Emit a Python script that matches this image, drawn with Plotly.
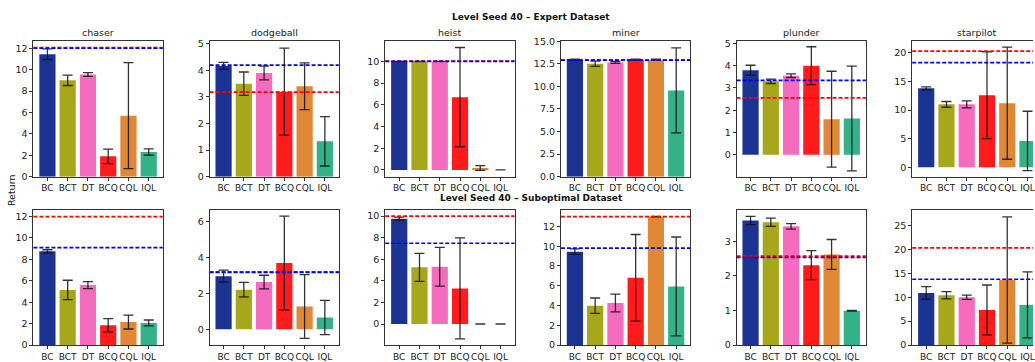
import plotly.graph_objects as go

# ---- data ---------------------------------------------------------------
algorithms = ["BC", "BCT", "DT", "BCQ", "CQL", "IQL"]
games = ["chaser", "dodgeball", "heist", "miner", "plunder", "starpilot"]
bar_colors = ["#1b3494", "#a6a71b", "#f56cbf", "#fe1b1b", "#e08835", "#35b188"]

# Expert dataset: mean return and error per algorithm, one list per game
expert_means = [
    [11.45, 9.0, 9.55, 1.9, 5.7, 2.3],
    [4.17, 3.5, 3.9, 3.2, 3.4, 1.33],
    [10.0, 10.0, 10.0, 6.7, 0.17, 0.0],
    [12.95, 12.5, 12.65, 12.95, 12.95, 9.55],
    [3.8, 3.3, 3.55, 4.0, 1.6, 1.63],
    [13.8, 11.0, 11.0, 12.6, 11.2, 4.6],
]
expert_errors = [
    [0.5, 0.48, 0.17, 0.68, 4.95, 0.3],
    [0.13, 0.44, 0.26, 1.64, 0.88, 0.93],
    [0.0, 0.0, 0.0, 4.57, 0.22, 0.0],
    [0.05, 0.3, 0.1, 0.05, 0.05, 4.7],
    [0.22, 0.1, 0.08, 0.85, 2.15, 2.35],
    [0.25, 0.5, 0.6, 7.6, 9.8, 5.2],
]
expert_ref_red = [12.05, 3.18, 10.02, 12.9, 2.56, 20.3]
expert_ref_blue = [12.0, 4.2, 10.0, 12.9, 3.34, 18.3]

# Suboptimal dataset
subopt_means = [
    [8.75, 5.15, 5.6, 1.85, 2.15, 2.07],
    [2.95, 2.2, 2.62, 3.68, 1.26, 0.65],
    [9.75, 5.25, 5.3, 3.3, 0.0, 0.0],
    [9.45, 3.98, 4.25, 6.8, 13.0, 5.93],
    [3.6, 3.55, 3.43, 2.31, 2.62, 0.99],
    [10.9, 10.4, 10.0, 7.35, 13.6, 8.4],
]
subopt_errors = [
    [0.15, 0.9, 0.33, 0.62, 0.65, 0.27],
    [0.33, 0.4, 0.38, 2.6, 1.77, 0.95],
    [0.15, 1.3, 1.8, 4.67, 0.0, 0.0],
    [0.27, 0.78, 0.9, 4.38, 0.02, 5.0],
    [0.12, 0.12, 0.08, 0.42, 0.43, 0.01],
    [1.3, 0.75, 0.45, 5.2, 13.2, 6.9],
]
subopt_ref_red = [12.0, 3.19, 10.0, 13.0, 2.57, 20.3]
subopt_ref_blue = [9.1, 3.16, 7.48, 9.8, 2.53, 13.75]

# y tick values per panel
expert_ticks = [
    [0, 2, 4, 6, 8, 10, 12],
    [0, 1, 2, 3, 4, 5],
    [0, 2, 4, 6, 8, 10],
    [0, 2.5, 5, 7.5, 10, 12.5, 15],
    [0, 1, 2, 3, 4, 5],
    [0, 5, 10, 15, 20],
]
subopt_ticks = [
    [0, 2, 4, 6, 8, 10, 12],
    [0, 2, 4, 6],
    [0, 2, 4, 6, 8, 10],
    [0, 2, 4, 6, 8, 10, 12],
    [0, 1, 2, 3],
    [0, 5, 10, 15, 20, 25],
]

# ---- layout geometry ----------------------------------------------------
W, H = 1035, 362
expert_yranges = [[0, 12.66], [0, 5.1], [-0.62, 11.85], [0, 15.0], [-0.98, 5.1], [-1.64, 22.05]]
subopt_yranges = [[0, 12.6], [-0.88, 6.62], [-1.95, 10.55], [0, 13.65], [0, 3.9], [0, 28.2]]
panel_left = [33.5, 210, 386, 562, 738, 914]
panel_width = 129.5
row_top = [36.5, 211.7]
row_bottom = [177, 351.7]
unit_px = panel_width / 6.38

font_family = "DejaVu Sans"
axis_color = "#333333"

fig = go.Figure()
layout = dict(
    width=W, height=H,
    margin=dict(l=0, r=0, t=0, b=0),
    paper_bgcolor="white", plot_bgcolor="white",
    showlegend=False,
    font=dict(family=font_family, size=9, color="#222222"),
    shapes=[], annotations=[],
)

rows = [
    (expert_means, expert_errors, expert_ref_red, expert_ref_blue, expert_yranges, expert_ticks),
    (subopt_means, subopt_errors, subopt_ref_red, subopt_ref_blue, subopt_yranges, subopt_ticks),
]

for r, (means, errors, refs_red, refs_blue, yranges, ticks) in enumerate(rows):
    for c in range(6):
        k = r * 6 + c + 1
        xname = "x" if k == 1 else f"x{k}"
        yname = "y" if k == 1 else f"y{k}"
        x0 = panel_left[c]
        x1 = min(x0 + panel_width, W)
        x_hi = -0.69 + (x1 - x0) / unit_px
        last = c == 5

        fig.add_trace(go.Bar(
            x=algorithms, y=means[c], width=0.8,
            marker=dict(color=bar_colors, line=dict(width=0)),
            error_y=dict(type="data", array=errors[c], visible=True,
                         color="rgba(15,15,15,0.85)", thickness=1.3, width=5),
            xaxis=xname, yaxis=yname, hoverinfo="skip",
        ))

        layout["xaxis" if k == 1 else f"xaxis{k}"] = dict(
            domain=[x0 / W, x1 / W], anchor=yname,
            type="category", range=[-0.69, x_hi],
            showline=True, linecolor=axis_color, linewidth=1, mirror=True,
            ticks="outside", ticklen=3, tickcolor=axis_color,
            tickangle=0, tickfont=dict(size=9, color="#222222"),
            showgrid=False, zeroline=False, fixedrange=True,
        )
        layout["yaxis" if k == 1 else f"yaxis{k}"] = dict(
            domain=[1 - row_bottom[r] / H, 1 - row_top[r] / H], anchor=xname,
            range=yranges[c], tickvals=ticks[c],
            tickformat=".1f" if (r == 0 and c == 3) else "",
            showline=True, linecolor=axis_color, linewidth=1,
            mirror=not last,
            ticks="outside", ticklen=3, tickcolor=axis_color,
            tickfont=dict(size=9.5, color="#222222"),
            showgrid=False, zeroline=False, fixedrange=True,
        )

        dom = f"{xname} domain"
        for val, col in ((refs_red[c], "red"), (refs_blue[c], "blue")):
            layout["shapes"].append(dict(
                type="line", xref=dom, x0=0, x1=1, yref=yname, y0=val, y1=val,
                line=dict(color=col, width=1.7, dash="4px,2px"), layer="above",
            ))

        if r == 0:
            layout["annotations"].append(dict(
                text=games[c], xref="paper", yref="paper",
                x=(x0 + panel_width / 2) / W, y=1 - 28 / H,
                showarrow=False, font=dict(size=9.5, color="#222222"),
                xanchor="center", yanchor="middle",
            ))

for text, ypx in (("Level Seed 40 – Expert Dataset", 11.7),
                  ("Level Seed 40 – Suboptimal Dataset", 199.3)):
    layout["annotations"].append(dict(
        text=f"<b>{text}</b>", xref="paper", yref="paper",
        x=532.5 / W, y=1 - ypx / H, showarrow=False,
        font=dict(size=9, color="#111111"), xanchor="center", yanchor="middle",
    ))

layout["annotations"].append(dict(
    text="Return", xref="paper", yref="paper", x=11 / W, y=1 - 191 / H,
    showarrow=False, textangle=-90, font=dict(size=9.5, color="#111111"),
    xanchor="center", yanchor="middle",
))

fig.update_layout(**layout)
fig.write_html("out.html")
